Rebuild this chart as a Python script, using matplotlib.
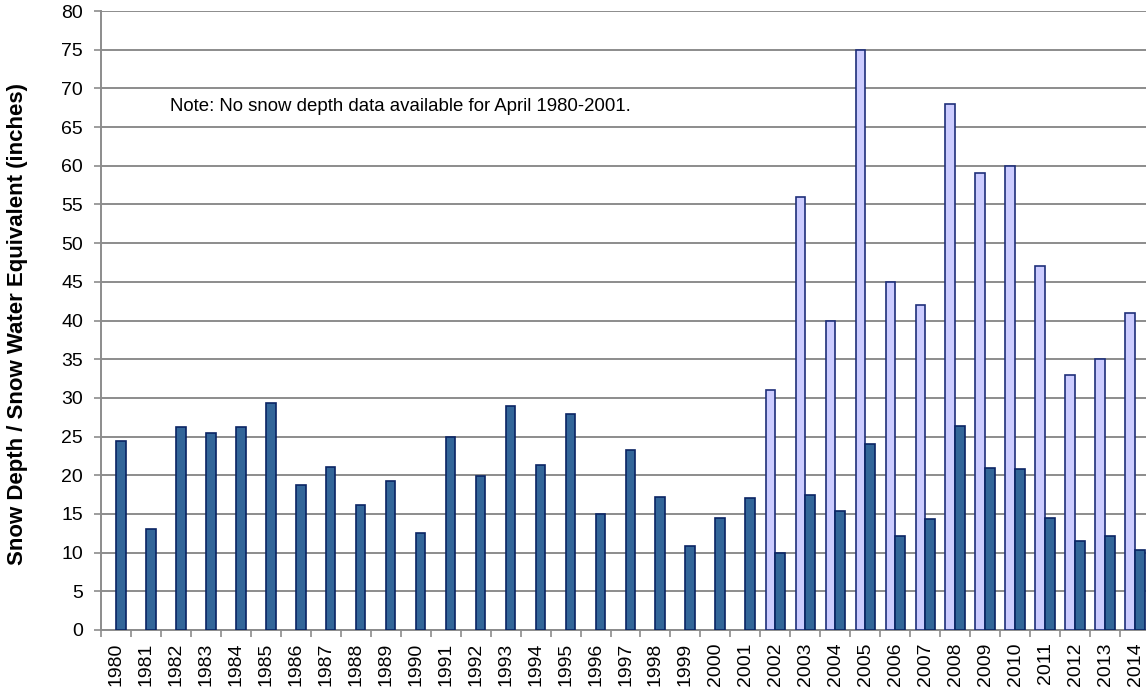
import matplotlib.pyplot as plt
import numpy as np

plt.rcParams['font.family'] = ['Liberation Sans', 'DejaVu Sans']

# years and values (inches)
years = list(range(1980, 2015))
# snow depth only available from 2002
snow_depth = [None] * 22 + [31, 56, 40, 75, 45, 42, 68, 59, 60, 47, 33, 35, 41]
swe = [24.4, 13.0, 26.2, 25.4, 26.2, 29.4, 18.7, 21.1, 16.2, 19.2,
       12.5, 25.0, 19.9, 29.0, 21.3, 27.9, 15.0, 23.3, 17.2, 10.8,
       14.5, 17.1, 10.0, 17.5, 15.4, 24.0, 12.1, 14.4, 26.4, 20.9,
       20.8, 14.5, 11.5, 12.2, 10.3]
yticks = list(range(0, 81, 5))

depth = np.array([np.nan if v is None else v for v in snow_depth], dtype=float)
x = np.arange(len(years))
w = 0.324

fig = plt.figure(figsize=(11.46, 6.91), dpi=100)
ax = fig.add_axes([101 / 1146, 61 / 691, 1049 / 1146, 619 / 691])

# light bars = snow depth, dark bars = snow water equivalent
ax.bar(x - w / 2, depth, width=w, color='#CCCCFF', edgecolor='#1F2F7A', linewidth=1.2, zorder=3)
ax.bar(x + w / 2, swe, width=w, color='#336699', edgecolor='#0A2464', linewidth=1.2, zorder=3)

ax.set_xlim(-0.5, len(years) - 0.5)
ax.set_ylim(0, 80)
ax.set_yticks(yticks)
ax.yaxis.grid(True, color='#8C8C8C', linewidth=1.4)
ax.set_axisbelow(True)

ax.set_xticks(x)
ax.set_xticklabels([str(y) for y in years], rotation=90, fontsize=14)
ax.set_xticks(np.arange(-0.5, len(years)), minor=True)
ax.tick_params(axis='x', which='major', length=0, pad=9)
ax.tick_params(axis='x', which='minor', length=5, width=1.2, color='#8C8C8C')
ax.tick_params(axis='y', length=5, width=1.2, color='#8C8C8C', labelsize=14, pad=8)

for s in ['top', 'right']:
    ax.spines[s].set_visible(False)
for s in ['left', 'bottom']:
    ax.spines[s].set_color('#8C8C8C')
    ax.spines[s].set_linewidth(1.4)

ax.set_ylabel('Snow Depth / Snow Water Equivalent (inches)', fontsize=16, fontweight='bold')
ax.yaxis.set_label_coords(-0.07, 0.494)

ax.text(0.066, 0.845, 'Note: No snow depth data available for April 1980-2001.',
        transform=ax.transAxes, fontsize=13.4, va='center', ha='left')

fig.savefig('out.png', dpi=100)
